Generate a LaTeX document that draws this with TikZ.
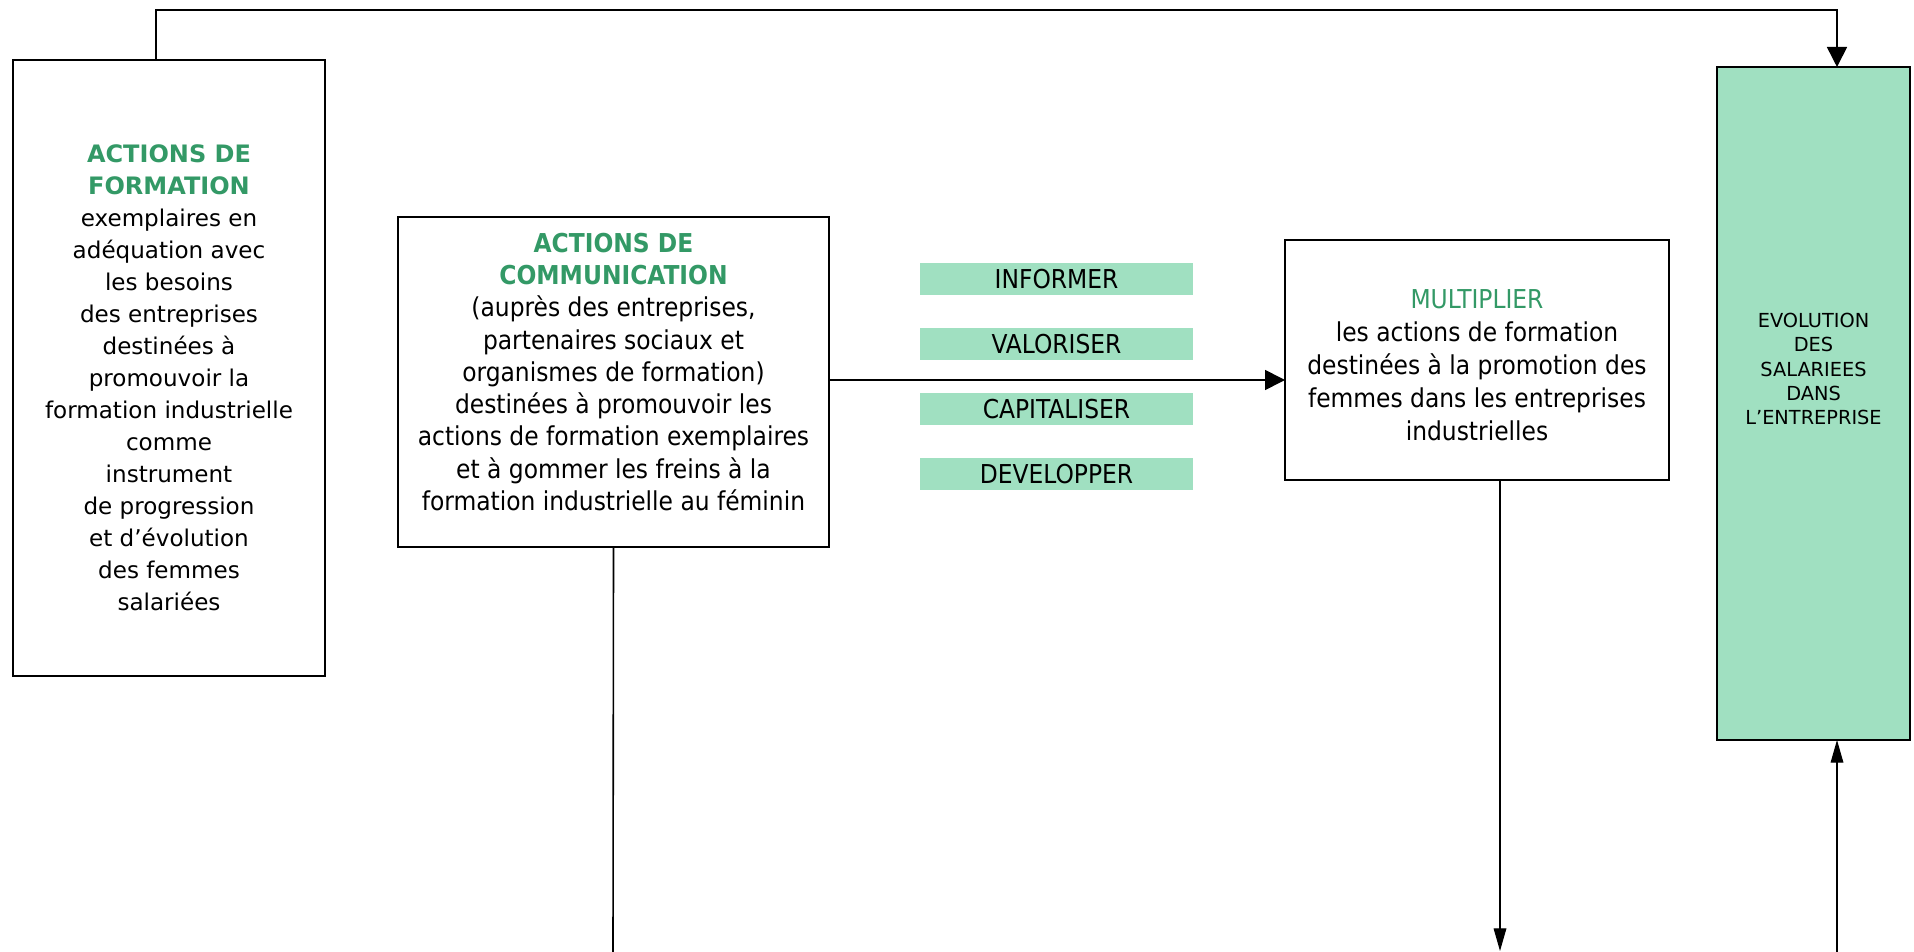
\documentclass[tikz,border=0pt]{standalone}
\usepackage{fontspec}
\setmainfont{DejaVu Sans}
\newfontfamily\tahoma{DejaVu Sans Condensed}
\usetikzlibrary{arrows.meta}
\definecolor{tgreen}{HTML}{339966}
\definecolor{fgreen}{HTML}{A0E0C1}
\tikzset{
  box/.style={draw=black, line width=1.4pt, inner sep=0pt, outer sep=0pt, rectangle},
  gbox/.style={fill=fgreen, inner sep=0pt, outer sep=0pt, rectangle, minimum width=204.75pt, minimum height=24pt, font=\tahoma\fontsize{19.5}{24}\selectfont},
  txt/.style={align=center, inner sep=0pt},
  conn/.style={line width=1.2pt},
  thin/.style={line width=0.9pt},
  bigtip/.style={-{Triangle[length=15pt,width=15pt]}},
  slimtip/.style={-{Triangle[length=17pt,width=9.5pt]}},
}
\begin{document}
\begin{tikzpicture}[x=0.75pt,y=-0.75pt]
\useasboundingbox (0,0) rectangle (1914,952);
% boxes
\node[box, minimum width=234pt, minimum height=462pt] (left) at (169,368) {};
\node[box, minimum width=323.25pt, minimum height=247.5pt] (comm) at (613.5,382) {};
\node[box, minimum width=288pt, minimum height=180pt] (mult) at (1477,360) {};
\node[box, fill=fgreen, minimum width=144.75pt, minimum height=504.75pt] (right) at (1813.5,403.5) {};
% texts
\node[txt, font=\fontsize{17.3}{24}\selectfont] (lefttxt) at (169,378) {%
{\color{tgreen}\bfseries\fontsize{18}{24}\selectfont ACTIONS DE}\\{\color{tgreen}\bfseries\fontsize{18}{24}\selectfont FORMATION}\\
exemplaires en\\adéquation avec\\les besoins\\des entreprises\\destinées à\\promouvoir la\\formation industrielle\\comme\\instrument\\de progression\\et d’évolution\\des femmes\\salariées};
\node[txt, font=\tahoma\fontsize{19.5}{24.2}\selectfont] (commtxt) at (613.5,372) {%
{\color{tgreen}\bfseries ACTIONS DE}\\{\color{tgreen}\bfseries COMMUNICATION}\\
(auprès des entreprises,\\partenaires sociaux et\\organismes de formation)\\destinées à promouvoir les\\actions de formation exemplaires\\et à gommer les freins à la\\formation industrielle au féminin};
\node[txt, font=\tahoma\fontsize{19.5}{24.7}\selectfont] (multtxt) at (1477,365) {%
{\color{tgreen}MULTIPLIER}\\les actions de formation\\destinées à la promotion des\\femmes dans les entreprises\\industrielles};
\node[txt, font=\fontsize{14.5}{18.3}\selectfont] (righttxt) at (1813.5,369) {%
EVOLUTION\\DES\\SALARIEES\\DANS\\L’ENTREPRISE};
% green labels
\node[gbox] (g1) at (1056.5,279.5) {INFORMER};
\node[gbox] (g2) at (1056.5,344) {VALORISER};
\node[gbox] (g3) at (1056.5,409) {CAPITALISER};
\node[gbox] (g4) at (1056.5,474) {DEVELOPPER};
% coordinates
\coordinate (t1) at (156,10);
\coordinate (t2) at (1837,10);
\coordinate (h1) at (829,380);
\coordinate (b1) at (613,952);
\coordinate (b2) at (1500,951);
\coordinate (b3) at (1837,952);
% connectors
\draw[conn, bigtip] (left.north -| t1) -- (t1) -- (t2) -- (right.north -| t2);
\draw[conn, bigtip] (comm.east |- h1) -- (mult.west |- h1);
\draw[conn] (comm.south) -- (b1);
\draw[thin, slimtip] (mult.south -| b2) -- (b2);
\draw[thin, slimtip] (b3) -- (right.south -| b3);
\end{tikzpicture}
\end{document}
